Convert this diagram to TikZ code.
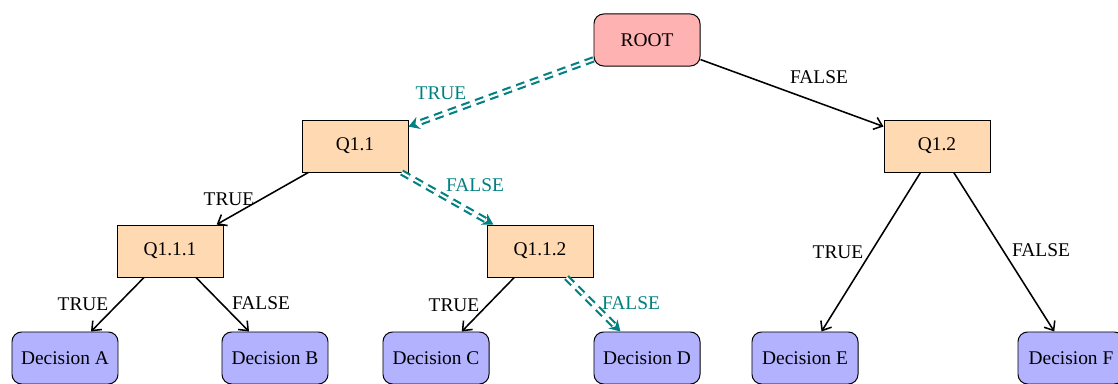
\documentclass[tikz,border=0pt]{standalone}
\usepackage{fontspec}
\setmainfont{Liberation Serif}
\usetikzlibrary{arrows.meta}
\begin{document}
\begin{tikzpicture}[x=0.515pt,y=-0.515pt,
  box/.style={draw, line width=0.5pt, minimum width=54.6pt, minimum height=26.8pt, inner sep=4pt, font=\fontsize{10}{12}\selectfont},
  rootbox/.style={box, rounded corners=5pt, fill=red!30},
  qbox/.style={box, fill=orange!30},
  decbox/.style={box, rounded corners=5pt, fill=blue!30},
  edge/.style={-{Straight Barb[length=4pt,width=6.5pt]}, thick},
  hl/.style={draw=teal, double=white, double distance=1.1pt, line width=1.1pt, dash pattern=on 4.5pt off 3pt, -{Stealth[length=5.5pt,width=6.5pt]}},
  lbl/.style={font=\fontsize{10}{12}\selectfont, inner sep=0pt},
  hlbl/.style={lbl, text=teal}]
\useasboundingbox (0,0) rectangle (1118,383);
\node[rootbox] (root) at (647,40) {ROOT};
\node[qbox] (q1) at (355,146) {Q1.1};
\node[qbox] (q2) at (937,146) {Q1.2};
\node[qbox] (q11) at (170,251) {Q1.1.1};
\node[qbox] (q12) at (540,251) {Q1.1.2};
\node[decbox] (da) at (65,358) {Decision A};
\node[decbox] (db) at (275,358) {Decision B};
\node[decbox] (dc) at (436,358) {Decision C};
\node[decbox] (dd) at (647,358) {Decision D};
\node[decbox] (de) at (805,358) {Decision E};
\node[decbox] (df) at (1071,358) {Decision F};
\draw[hl] (root) -- (q1) node[hlbl] at (441,93) {TRUE};
\draw[edge] (root) -- (q2) node[lbl] at (819,77) {FALSE};
\draw[edge] (q1) -- (q11) node[lbl] at (229,199) {TRUE};
\draw[hl] (q1) -- (q12) node[hlbl] at (475,185) {FALSE};
\draw[edge] (q11) -- (da) node[lbl] at (83,304) {TRUE};
\draw[edge] (q11) -- (db) node[lbl] at (261,303) {FALSE};
\draw[edge] (q12) -- (dc) node[lbl] at (454,305) {TRUE};
\draw[hl] (q12) -- (dd) node[hlbl] at (631,303) {FALSE};
\draw[edge] (q2) -- (de) node[lbl] at (838,252) {TRUE};
\draw[edge] (q2) -- (df) node[lbl] at (1041,250) {FALSE};
\end{tikzpicture}
\end{document}
